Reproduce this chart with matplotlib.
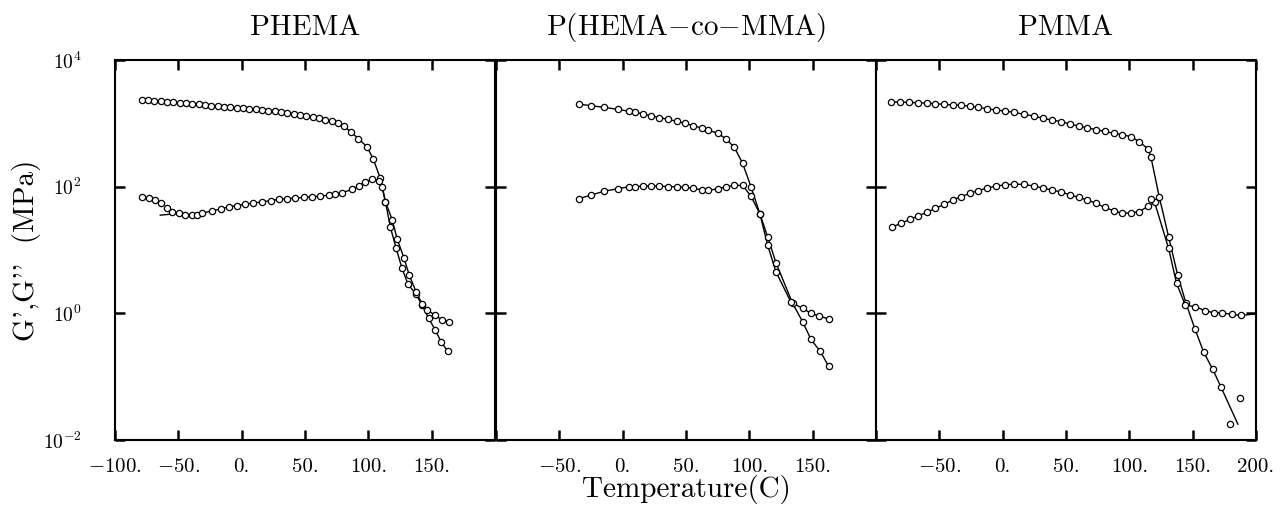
"""
Dynamic mechanical spectra (G', G'') of PHEMA, P(HEMA-co-MMA) and PMMA.
"""

import numpy as np
import matplotlib
matplotlib.use('Agg')
import matplotlib.pyplot as plt

plt.rcParams['font.family'] = ['cmr10', 'DejaVu Serif']
plt.rcParams['mathtext.fontset'] = 'cm'
plt.rcParams['axes.unicode_minus'] = False
plt.rcParams['axes.formatter.use_mathtext'] = True

# ---- data: temperature (C) and log10 of modulus (MPa) ----
titles = ['PHEMA', 'P(HEMA$-$co$-$MMA)', 'PMMA']

# PHEMA
phema_g1_t = [-79, -74, -69, -64, -59, -54, -49, -44, -39, -34, -29, -24, -19, -14,
              -9, -4, 1, 6, 11, 16, 21, 26, 31, 36, 41, 46, 51, 56, 61, 66, 71, 76,
              81, 86, 92, 99, 104, 109.5, 113.5, 117.4, 121.9, 126.6, 131.3, 137.7,
              142.4, 147.7, 153, 157.5, 162.7]
phema_g1 = [3.37, 3.365, 3.36, 3.35, 3.34, 3.33, 3.325, 3.315, 3.31, 3.30, 3.29, 3.28,
            3.275, 3.265, 3.255, 3.245, 3.24, 3.23, 3.22, 3.21, 3.20, 3.19, 3.175,
            3.165, 3.15, 3.135, 3.12, 3.10, 3.08, 3.06, 3.035, 3.0, 2.95, 2.87, 2.76,
            2.63, 2.43, 2.13, 1.76, 1.36, 1.03, 0.71, 0.46, 0.30, 0.13, -0.08, -0.27,
            -0.45, -0.60]
phema_g2_t = [-64.3, -49.8, -44.5, -39.3, -35.3, -31.3, -23.4, -16, -10.3, -4, 2.9, 9,
              16.1, 23, 29.2, 36, 42.4, 49, 55.6, 62, 68.7, 74, 79.3, 87.2, 92.4, 97.7,
              103, 108.2, 110.9, 113.5, 118.8, 122.7, 128, 132.4, 137.7, 142.4, 146.4,
              153, 158.2, 163.5]
phema_g2 = [1.55, 1.578, 1.55, 1.55, 1.556, 1.578, 1.62, 1.65, 1.683, 1.70, 1.725, 1.74,
            1.76, 1.78, 1.80, 1.81, 1.82, 1.83, 1.84, 1.85, 1.867, 1.88, 1.904, 1.957,
            2.014, 2.077, 2.115, 2.093, 1.998, 1.76, 1.48, 1.18, 0.88, 0.60, 0.34, 0.15,
            0.05, -0.03, -0.11, -0.13]
phema_extra_t = [-78.7, -73.5, -68.2, -63.7, -59, -55]
phema_extra = [1.84, 1.82, 1.79, 1.736, 1.657, 1.604]

# P(HEMA-co-MMA)
copo_g1_t = [-34.7, -25, -14.4, -3.9, 5.3, 9.8, 15.8, 22.4, 29, 36.1, 42.6, 49.5, 55.8,
             62.4, 67.6, 75, 81.6, 88.2, 94.7, 101.3, 108.4, 114.4, 121, 134.2, 142.1,
             148.7, 156, 162.6]
copo_g1 = [3.305, 3.278, 3.252, 3.22, 3.19, 3.18, 3.147, 3.12, 3.09, 3.063, 3.03, 3.0,
           2.962, 2.926, 2.894, 2.842, 2.757, 2.62, 2.368, 2.0, 1.567, 1.21, 0.80, 0.156,
           -0.134, -0.413, -0.60, -0.836]
copo_g2_t = [-34.7, -25, -14.4, -3.9, 5.3, 9.8, 15.8, 22.4, 29, 36.1, 42.6, 49.5, 55.8,
             62.4, 67.6, 75, 81.6, 88.2, 94.7, 101.3, 108.4, 114.4, 121, 132.8, 142.1,
             148.7, 155.3, 162.6]
copo_g2 = [1.81, 1.867, 1.93, 1.967, 2.0, 2.0, 2.01, 2.01, 2.01, 2.0, 2.0, 1.989, 1.973,
           1.951, 1.946, 1.962, 2.0, 2.02, 2.02, 1.85, 1.567, 1.08, 0.656, 0.18, 0.077,
           0.0, -0.044, -0.087]

# PMMA
pmma_g1_t = [-88.4, -81.1, -73.7, -66.6, -59.9, -53.1, -46.2, -39.3, -33, -26.1, -19.8,
             -12.4, -5, 2.1, 9.3, 16.6, 24.6, 32, 39.1, 46.3, 53.1, 60, 66.9, 73.7,
             80.6, 87.5, 94.6, 101.2, 107.8, 114.9, 117, 123.6, 131, 138.2, 144.8,
             151.9, 158.8, 165.9, 172.5, 185.7]
pmma_g1 = [3.337, 3.337, 3.33, 3.326, 3.32, 3.31, 3.30, 3.29, 3.284, 3.273, 3.253, 3.231,
           3.21, 3.194, 3.173, 3.142, 3.115, 3.079, 3.052, 3.026, 2.989, 2.957, 2.931,
           2.899, 2.874, 2.842, 2.82, 2.79, 2.71, 2.594, 2.473, 1.84, 1.21, 0.60, 0.156,
           -0.254, -0.618, -0.886, -1.17, -1.75]
pmma_g2_t = [-87.7, -80.6, -73.1, -66.6, -59.9, -53.1, -46.2, -39.3, -33, -26.1, -19.8,
             -12.4, -5, 2.1, 9.3, 16.6, 24.6, 32, 39.1, 46.3, 53.1, 60, 66.9, 73.7,
             80.6, 87.5, 94.6, 101.2, 107.8, 114.9, 120, 131, 137.3, 144.2, 152.2,
             160.1, 166.7, 173.3, 180.7, 187.8, 200]
pmma_g2 = [1.357, 1.42, 1.483, 1.54, 1.594, 1.657, 1.72, 1.79, 1.84, 1.894, 1.935,
           1.978, 2.01, 2.03, 2.04, 2.035, 2.01, 1.978, 1.946, 1.915, 1.872, 1.83, 1.79,
           1.736, 1.673, 1.62, 1.578, 1.588, 1.604, 1.693, 1.75, 1.025, 0.472, 0.13,
           0.103, 0.04, 0.008, 0.008, -0.017, -0.033, -0.01]
pmma_extra_t = [117, 179.8, 187]
pmma_extra = [1.80, -1.75, -1.33]

x_ticks = [-100, -50, 0, 50, 100, 150, 200]
x_labels = [['$-$100.', '$-$50.', '0.', '50.', '100.', '150.', ''],
            ['', '$-$50.', '0.', '50.', '100.', '150.', ''],
            ['', '$-$50.', '0.', '50.', '100.', '150.', '200.']]
y_ticks = [1e-2, 1e0, 1e2, 1e4]
y_labels = ['$10^{-2}$', '$10^{0}$', '$10^{2}$', '$10^{4}$']

MS = 4.5


def draw_curve(ax, t, logg, skip_first=0, skip_last=0):
    """Line through every point, open circles on the measured ones."""
    g = 10 ** np.asarray(logg)
    ax.plot(t, g, '-', color='black', lw=1.0, zorder=2)
    n = len(t)
    ax.plot(t[skip_first:n - skip_last], g[skip_first:n - skip_last], 'o',
            ms=MS, mfc='white', mec='black', mew=0.9, zorder=3)


fig = plt.figure(figsize=(12.83, 5.07), dpi=100)
W = 1283.0
H = 507.0
lefts = [115, 496, 876]
width = 380
axes = []
for i, x0 in enumerate(lefts):
    ax = fig.add_axes([x0 / W, 1 - 440 / H, width / W, 380 / H])
    ax.set_yscale('log')
    ax.set_xlim(-100, 200)
    ax.set_ylim(1e-2, 1e4)
    ax.set_xticks(x_ticks)
    ax.set_xticklabels(x_labels[i], fontsize=15)
    ax.set_yticks(y_ticks)
    ax.yaxis.set_minor_locator(matplotlib.ticker.NullLocator())
    if i == 0:
        ax.set_yticklabels(y_labels, fontsize=14)
    else:
        ax.set_yticklabels([])
    ax.tick_params(which='major', direction='in', top=True, right=True,
                   length=7, width=1.8)
    ax.tick_params(axis='x', pad=13)
    ax.tick_params(axis='y', pad=24)
    for sp in ax.spines.values():
        sp.set_linewidth(1.5)
    ax.set_title(titles[i], fontsize=21, pad=18)
    axes.append(ax)

# PHEMA
draw_curve(axes[0], phema_g1_t, phema_g1)
draw_curve(axes[0], phema_g2_t, phema_g2, skip_first=1)
axes[0].plot(phema_extra_t, 10 ** np.asarray(phema_extra), 'o', ms=MS, mfc='white',
             mec='black', mew=0.9, zorder=3)

# P(HEMA-co-MMA)
draw_curve(axes[1], copo_g1_t, copo_g1)
draw_curve(axes[1], copo_g2_t, copo_g2)

# PMMA
draw_curve(axes[2], pmma_g1_t, pmma_g1, skip_last=1)
draw_curve(axes[2], pmma_g2_t, pmma_g2, skip_last=1)
axes[2].plot(pmma_extra_t, 10 ** np.asarray(pmma_extra), 'o', ms=MS, mfc='white',
             mec='black', mew=0.9, zorder=3)

fig.text(686 / W, 1 - 490 / H, 'Temperature(C)', ha='center', va='center', fontsize=21)
fig.text(27 / W, 1 - 250 / H, "G',G''  (MPa)", ha='center', va='center',
         rotation=90, fontsize=21)

fig.savefig('out.png', dpi=100)
